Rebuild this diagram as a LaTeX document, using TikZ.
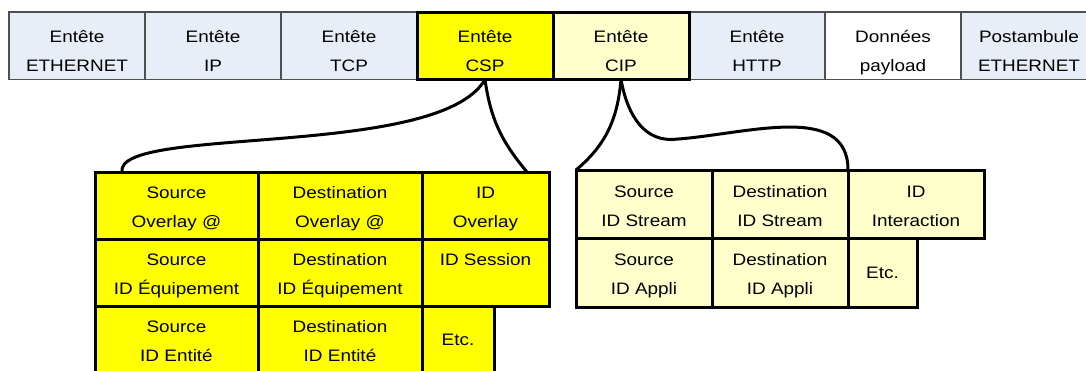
\documentclass[tikz,border=0pt]{standalone}
\usepackage{fontspec}
\setmainfont{Liberation Sans}[FakeStretch=1.14]
\usetikzlibrary{positioning, backgrounds}
\definecolor{hdrblue}{RGB}{232,238,248}
\definecolor{cspyellow}{RGB}{255,255,0}
\definecolor{cippale}{RGB}{255,255,204}
\definecolor{linegray}{RGB}{80,80,80}
\tikzset{
  cell/.style={
    align=center,
    outer sep=0pt,
    inner sep=0pt,
    text height=43.5pt,
    text depth=0pt,
    font={\fontsize{16.6}{28.7}\selectfont}
  },
  oneline/.style={text height=12pt},
  hdr/.style={cell, text height=50.5pt, draw=linegray, line width=1.2pt, fill=hdrblue, minimum width=136pt, minimum height=67.5pt},
  payload/.style={hdr, fill=white},
  hdrcsp/.style={hdr, draw=black, line width=3pt, fill=cspyellow},
  hdrcip/.style={hdrcsp, fill=cippale},
  cspfield/.style={cell, draw=black, line width=3pt, fill=cspyellow, minimum height=67pt},
  cipfield/.style={cell, draw=black, line width=3pt, fill=cippale, minimum width=136pt, minimum height=68.5pt},
  link/.style={draw=black, line width=3pt}
}
\begin{document}
\begin{tikzpicture}
  \useasboundingbox (0,0) rectangle (1086pt,-370pt);

  \node[hdr, anchor=north west] (eth) at (9pt,-12pt) {Entête\\ETHERNET};
  \node[hdr, right=0pt of eth] (ip) {Entête\\IP};
  \node[hdr, right=0pt of ip] (tcp) {Entête\\TCP};
  \node[hdrcsp, right=0pt of tcp] (csp) {Entête\\CSP};
  \node[hdrcip, right=0pt of csp] (cip) {Entête\\CIP};
  \begin{scope}[on background layer]
    \node[hdr, right=0pt of cip] (http) {Entête\\HTTP};
    \node[payload, right=0pt of http] (data) {Données\\payload};
    \node[hdr, right=0pt of data] (post) {Postambule\\ETHERNET};
  \end{scope}

  \node[cspfield, minimum width=163pt, anchor=north west] (srcov) at (95pt,-172pt) {Source\\Overlay @};
  \node[cspfield, minimum width=164pt, right=0pt of srcov] (dstov) {Destination\\Overlay @};
  \node[cspfield, minimum width=127pt, right=0pt of dstov] (idov) {ID\\Overlay};
  \node[cspfield, minimum width=163pt, below=0pt of srcov] (srceq) {Source\\ID Équipement};
  \node[cspfield, minimum width=164pt, below=0pt of dstov] (dsteq) {Destination\\ID Équipement};
  \node[cspfield, minimum width=127pt, below=0pt of idov] (idses) {ID Session\\\mbox{}};
  \node[cspfield, minimum width=163pt, below=0pt of srceq] (srcent) {Source\\ID Entité};
  \node[cspfield, minimum width=164pt, below=0pt of dsteq] (dstent) {Destination\\ID Entité};
  \node[cspfield, oneline, minimum width=72pt, right=0pt of dstent] (cspetc) {Etc.};

  \node[cipfield, anchor=north west] (srcstrm) at (576pt,-170pt) {Source\\ID Stream};
  \node[cipfield, right=0pt of srcstrm] (dststrm) {Destination\\ID Stream};
  \node[cipfield, right=0pt of dststrm] (idint) {ID\\Interaction};
  \node[cipfield, below=0pt of srcstrm] (srcapp) {Source\\ID Appli};
  \node[cipfield, below=0pt of dststrm] (dstapp) {Destination\\ID Appli};
  \node[cipfield, oneline, minimum width=69pt, right=0pt of dstapp] (cipetc) {Etc.};

  \draw[link] (csp.south) .. controls +(-46pt,-80pt) and +(-7pt,47pt) .. ([xshift=27pt]srcov.north west);
  \draw[link] (csp.south) to[out=-82,in=130] ([xshift=-22pt]idov.north east);
  \draw[link] (cip.south) to[out=-95,in=40] (srcstrm.north west);
  \draw[link] (cip.south) to[out=-80,in=180] ++(50pt,-60pt) to[out=3,in=90] (idint.north west);
\end{tikzpicture}
\end{document}
